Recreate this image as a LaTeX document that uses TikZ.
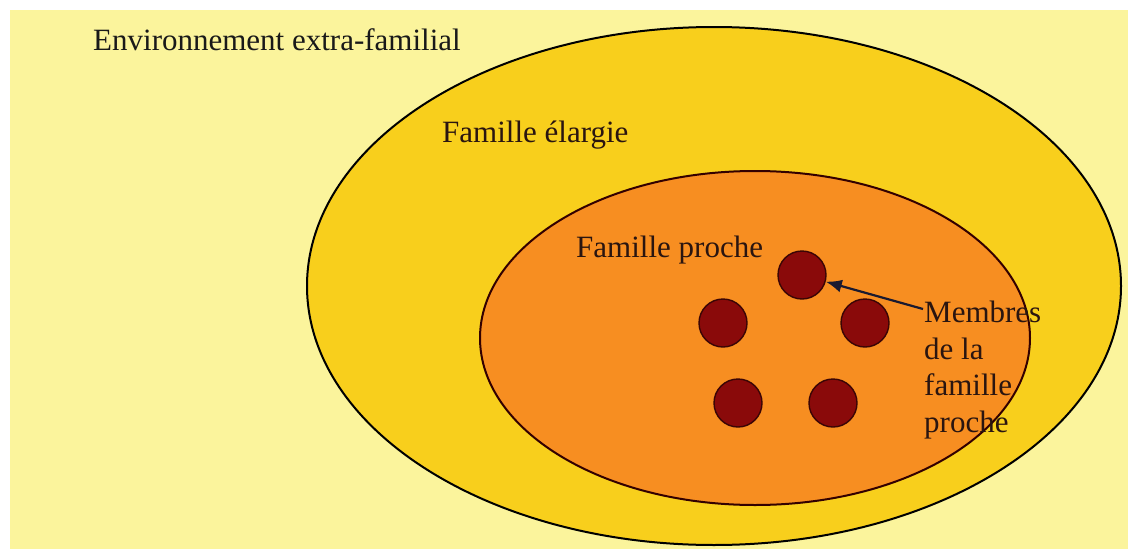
\documentclass[tikz,border=0pt]{standalone}
\usepackage{fontspec}
\setmainfont{Liberation Serif}
\usetikzlibrary{shapes.geometric,arrows.meta}
\definecolor{bgyellow}{HTML}{FBF49C}
\definecolor{outerfill}{HTML}{F8CF1C}
\definecolor{innerfill}{HTML}{F78E21}
\definecolor{memberfill}{HTML}{8A0A0A}
\definecolor{memberline}{HTML}{3A0505}
\definecolor{textdark}{HTML}{2A1510}
\definecolor{arrowcol}{HTML}{1A1A30}
\begin{document}
\begin{tikzpicture}[x=1pt,y=-1pt,
  zone/.style={ellipse,draw=black,line width=2pt,inner sep=0pt},
  member/.style={circle,draw=memberline,fill=memberfill,line width=1.4pt,minimum size=48pt,inner sep=0pt},
  lbl/.style={inner sep=0pt,text=textdark,font=\fontsize{31}{36.5}\selectfont},
  pointer/.style={draw=arrowcol,line width=2.2pt,-{Latex[length=16pt,width=13pt]}}]
\useasboundingbox (0,0) rectangle (1128,549);
\fill[white] (0,0) rectangle (1128,549);
\fill[bgyellow] (10,10) rectangle (1128,549);
\node[zone,fill=outerfill,minimum width=814pt,minimum height=518pt] (outer) at (714,286) {};
\node[zone,draw=black!80!red,fill=innerfill,minimum width=550pt,minimum height=334pt] (inner) at (755,338) {};
\node[lbl,text=black!90,anchor=base west] (env) at (93,50) {Environnement extra-familial};
\node[lbl,anchor=base west] (large) at (442,142) {Famille élargie};
\node[lbl,anchor=base west] (proche) at (576,257) {Famille proche};
\node[member] (m1) at (802,275) {};
\node[member] (m2) at (723,323) {};
\node[member] (m3) at (865,323) {};
\node[member] (m4) at (738,403) {};
\node[member] (m5) at (833,403) {};
\node[lbl,anchor=north west,align=left] (membres) at (924,301) {Membres\\de la\\famille\\proche};
\coordinate (pstart) at (923,309);
\draw[pointer] (pstart) -- (m1);
\end{tikzpicture}
\end{document}
